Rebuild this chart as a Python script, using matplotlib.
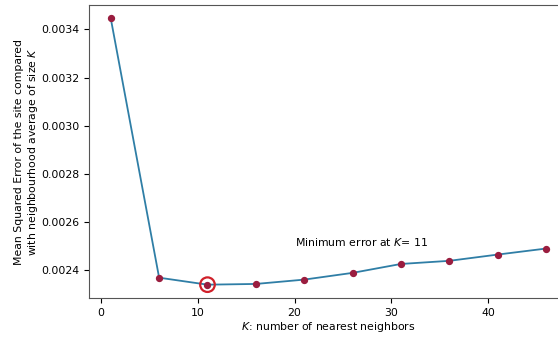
import numpy as np
import matplotlib
matplotlib.use('Agg')
from matplotlib import pyplot as plt

# K values and the error for each neighbourhood size
k_values = [1, 6, 11, 16, 21, 26, 31, 36, 41, 46]
mse = [0.003446, 0.002369, 0.002340, 0.002343, 0.002361,
       0.002389, 0.002426, 0.002439, 0.002465, 0.002490]

best = int(np.argmin(mse))
best_k = k_values[best]

plt.rcParams['font.size'] = 7.8

fig = plt.figure(figsize=(5.58, 3.39), dpi=100)
# axes runs past the right edge like in the original screenshot
ax = fig.add_axes([0.1595, 0.121, 0.858, 0.864])

ax.plot(k_values, mse, color='#2f7ea6', lw=1.3, zorder=1)
ax.scatter(k_values, mse, color='#9a1d3f', s=18, zorder=2)
ax.scatter([best_k], [mse[best]], s=110, facecolors='none',
           edgecolors='#d0202a', linewidths=1.6, zorder=3)

ax.text(20, 0.0025, 'Minimum error at $K$= ' + str(best_k), fontsize=7.8)

ax.set_xlabel('$K$: number of nearest neighbors', labelpad=2)
ax.set_ylabel('Mean Squared Error of the site compared\nwith neighbourhood average of size $K$',
              labelpad=0.5)
ax.set_yticks([0.0024, 0.0026, 0.0028, 0.0030, 0.0032, 0.0034])
ax.set_yticklabels(['0.0024', '0.0026', '0.0028', '0.0030', '0.0032', '0.0034'])
ax.set_xticks([0, 10, 20, 30, 40])

for s in ax.spines.values():
    s.set_color('#555555')

fig.savefig('out.png', dpi=100)
